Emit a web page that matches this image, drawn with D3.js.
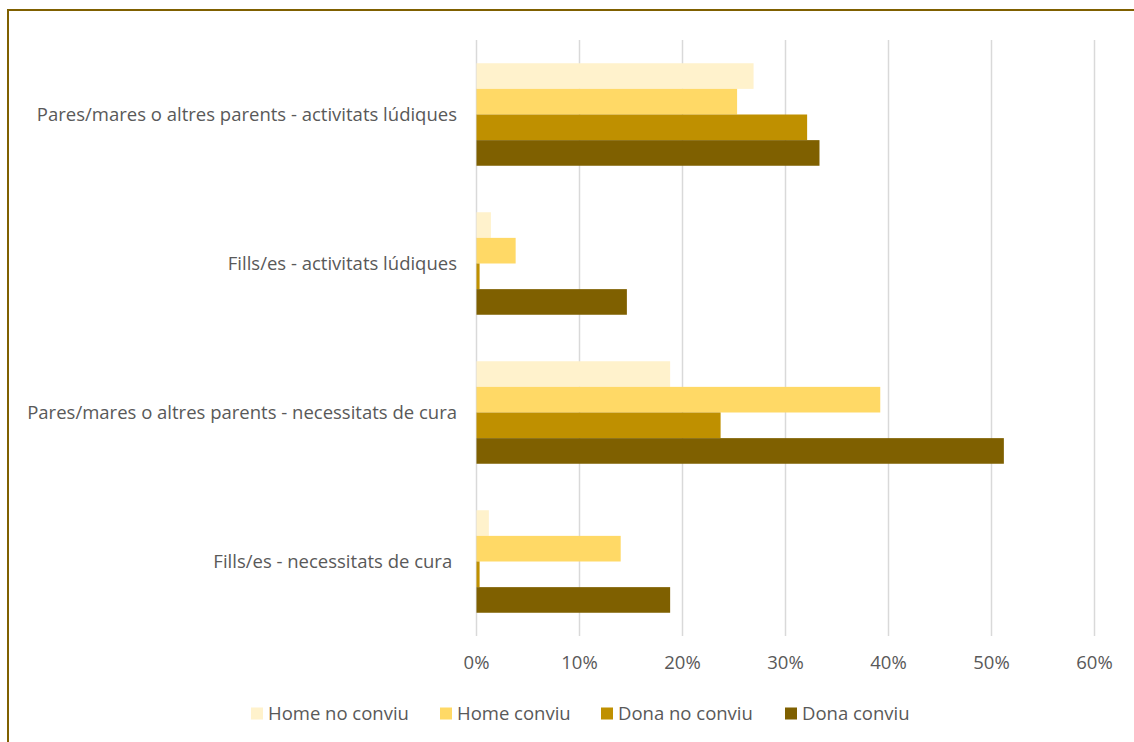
<!DOCTYPE html>
<html>
<head>
<meta charset="utf-8">
<script src="https://cdn.jsdelivr.net/npm/d3@7"></script>
<style>
  body { margin: 0; background: #fff; }
  svg text { font-family: "Open Sans", "Noto Sans", sans-serif; fill: #595959; }
</style>
</head>
<body>
<div id="chart"></div>
<script>
// categories, top to bottom (last one has a trailing space in the source)
let categories = [
  'Pares/mares o altres parents - activitats lúdiques',
  'Fills/es - activitats lúdiques',
  'Pares/mares o altres parents - necessitats de cura',
  'Fills/es - necessitats de cura '
]

let seriesNames = ['Home no conviu', 'Home conviu', 'Dona no conviu', 'Dona conviu']
let seriesColors = ['#FFF2CC', '#FFD966', '#BF9000', '#7F6000']

// values in %, same order as categories
let homeNoConviu = [26.9, 1.4, 18.8, 1.2]
let homeConviu = [25.3, 3.8, 39.2, 14.0]
let donaNoConviu = [32.1, 0.3, 23.7, 0.3]
let donaConviu = [33.3, 14.6, 51.2, 18.8]

let xTicks = [0, 10, 20, 30, 40, 50, 60]

let seriesValues = [homeNoConviu, homeConviu, donaNoConviu, donaConviu]

let width = 1134,
  height = 742

let svg = d3.select('#chart')
  .append('svg')
  .attr('width', width)
  .attr('height', height)

// outer frame
svg.append('rect')
  .attr('x', 8)
  .attr('y', 10)
  .attr('width', width)
  .attr('height', height)
  .attr('fill', 'none')
  .attr('stroke', '#7F6000')
  .attr('stroke-width', 2)

let x = d3.scaleLinear().domain([0, 60]).range([476.5, 1094.5])

let y = d3.scaleBand()
  .domain(categories)
  .range([40, 636])
  .paddingInner(0.312)
  .paddingOuter(0.156)

let ySub = d3.scaleBand()
  .domain(seriesNames)
  .range([0, y.bandwidth()])

// gridlines
svg.append('g')
  .selectAll('line')
  .data(xTicks)
  .enter().append('line')
  .attr('x1', d => x(d))
  .attr('x2', d => x(d))
  .attr('y1', 40)
  .attr('y2', 636)
  .attr('stroke', '#D9D9D9')
  .attr('stroke-width', 1.5)

// bars
let groups = svg.append('g')
  .selectAll('g')
  .data(categories)
  .enter().append('g')
  .attr('transform', d => 'translate(0,' + y(d) + ')')

groups.selectAll('rect')
  .data((c, ci) => seriesNames.map((s, si) => ({ series: s, si: si, value: seriesValues[si][ci] })))
  .enter().append('rect')
  .attr('x', x(0))
  .attr('y', d => ySub(d.series))
  .attr('width', d => x(d.value) - x(0))
  .attr('height', ySub.bandwidth())
  .attr('fill', d => seriesColors[d.si])

// category labels
svg.append('g')
  .selectAll('text')
  .data(categories)
  .enter().append('text')
  .attr('x', 457)
  .attr('y', d => y(d) + y.bandwidth() / 2)
  .attr('dy', '0.35em')
  .attr('text-anchor', 'end')
  .style('font-size', '18.5px')
  .style('white-space', 'pre')
  .text(d => d)

// x tick labels
svg.append('g')
  .selectAll('text')
  .data(xTicks)
  .enter().append('text')
  .attr('x', d => x(d))
  .attr('y', 663)
  .attr('dy', '0.35em')
  .attr('text-anchor', 'middle')
  .style('font-size', '18.5px')
  .text(d => d + '%')

// legend
let legendX = [251, 440, 601, 785]
let legend = svg.append('g')
  .selectAll('g')
  .data(seriesNames)
  .enter().append('g')
  .attr('transform', (d, i) => 'translate(' + legendX[i] + ',713.5)')

legend.append('rect')
  .attr('x', 0)
  .attr('y', -6)
  .attr('width', 12)
  .attr('height', 12)
  .attr('fill', (d, i) => seriesColors[i])

legend.append('text')
  .attr('x', 17)
  .attr('y', 0)
  .attr('dy', '0.35em')
  .style('font-size', '18.5px')
  .text(d => d)
</script>
</body>
</html>
